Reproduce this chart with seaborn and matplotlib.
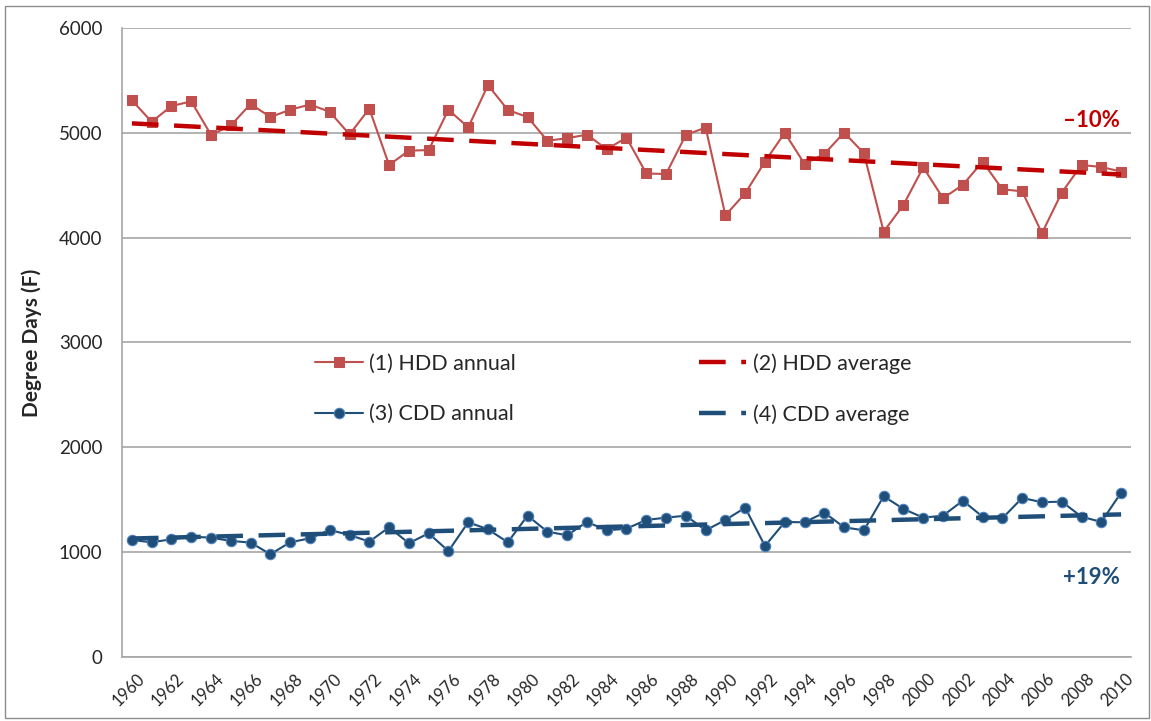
import numpy as np
import matplotlib
matplotlib.use("Agg")
import matplotlib.pyplot as plt
import matplotlib.transforms as mtransforms
import seaborn as sns

# data
years = list(range(1960, 2011))
hdd = [5310, 5105, 5255, 5300, 4980, 5070, 5275, 5150, 5220, 5270,
       5200, 4985, 5230, 4693, 4830, 4835, 5220, 5052, 5455, 5218,
       5150, 4925, 4948, 4983, 4843, 4954, 4612, 4607, 4980, 5050,
       4213, 4423, 4725, 5000, 4703, 4798, 5002, 4805, 4057, 4312,
       4671, 4376, 4503, 4725, 4461, 4442, 4042, 4429, 4693, 4674,
       4630]
cdd = [1116, 1094, 1123, 1148, 1138, 1107, 1091, 980, 1094, 1132,
       1211, 1164, 1100, 1237, 1085, 1180, 1010, 1285, 1218, 1094,
       1348, 1195, 1161, 1288, 1208, 1224, 1307, 1329, 1348, 1208,
       1307, 1424, 1059, 1287, 1285, 1377, 1237, 1208, 1533, 1412,
       1329, 1348, 1491, 1338, 1323, 1517, 1476, 1482, 1338, 1288,
       1567]
trend_years = [1960, 2010]
hdd_avg = [5090, 4602]
cdd_avg = [1130, 1360]

labels = ["(1) HDD annual", "(2) HDD average", "(3) CDD annual", "(4) CDD average"]
hdd_pct = "\u201310%"
cdd_pct = "+19%"

hdd_col = "#C0504D"
hdd_avg_col = "#C00000"
cdd_col = "#1F4E79"
cdd_edge = "#4F81BD"
grid_col = "#A6A6A6"

sns.set_theme(style="white")
plt.rcParams["font.family"] = ["Lato", "DejaVu Sans"]

fig = plt.figure(figsize=(11.51, 7.21), dpi=100)
ax = fig.add_axes([0.106, 0.0888, 0.8766, 0.8724])

sns.lineplot(x=years, y=hdd, ax=ax, color=hdd_col, lw=1.5, marker="s",
             markersize=7.5, markeredgecolor=hdd_col, label=labels[0])
sns.lineplot(x=trend_years, y=hdd_avg, ax=ax, color=hdd_avg_col, lw=3.2,
             linestyle=(0, (6, 3.5)), label=labels[1])
sns.lineplot(x=years, y=cdd, ax=ax, color=cdd_col, lw=1.5, marker="o",
             markersize=7.5, markeredgecolor=cdd_edge, markeredgewidth=0.8,
             label=labels[2])
sns.lineplot(x=trend_years, y=cdd_avg, ax=ax, color=cdd_col, lw=3.2,
             linestyle=(0, (6, 3.5)), label=labels[3])

ax.set_xlim(1959.5, 2010.5)
ax.set_ylim(0, 6000)
ax.set_yticks(range(0, 6001, 1000))
ax.yaxis.grid(True, color=grid_col, lw=1.2)
ax.set_axisbelow(True)

ax.set_xticks(years[::2])
ax.set_xticks(np.arange(1959.5, 2011, 1), minor=True)
ax.tick_params(axis="x", which="major", length=0, pad=14)
ax.tick_params(axis="x", which="minor", length=6, color=grid_col, width=1)
ax.tick_params(axis="y", length=6, color=grid_col, width=1, labelsize=13.5, pad=8)
shift = mtransforms.ScaledTranslation(10 / 100, 0, fig.dpi_scale_trans)
for t in ax.get_xticklabels():
    t.set_rotation(45)
    t.set_ha("right")
    t.set_va("center")
    t.set_rotation_mode("anchor")
    t.set_fontsize(12)
    t.set_transform(t.get_transform() + shift)

for s in ["top", "right"]:
    ax.spines[s].set_visible(False)
for s in ["left", "bottom"]:
    ax.spines[s].set_color(grid_col)
    ax.spines[s].set_linewidth(1.2)

ax.set_xlabel("")
ax.set_ylabel("Degree Days (F)", fontsize=15, fontweight="bold", labelpad=12)

h, l = ax.get_legend_handles_labels()
order = [0, 2, 1, 3]
ax.legend([h[i] for i in order], [l[i] for i in order], ncol=2, loc="center",
          bbox_to_anchor=(0.487, 0.426), frameon=False, fontsize=15.5,
          handlelength=2.2, columnspacing=8.5, labelspacing=1.4, handletextpad=0.3)

ax.text(2008.5, 5120, hdd_pct, color=hdd_avg_col, fontsize=16, fontweight="bold",
        ha="center", va="center")
ax.text(2008.5, 760, cdd_pct, color=cdd_col, fontsize=16, fontweight="bold",
        ha="center", va="center")

fig.patches.append(plt.Rectangle((0.004, 0.004), 0.994, 0.988, fill=False,
                                 edgecolor="#8C8C8C", lw=1, transform=fig.transFigure))

fig.savefig("out.png", dpi=100)
